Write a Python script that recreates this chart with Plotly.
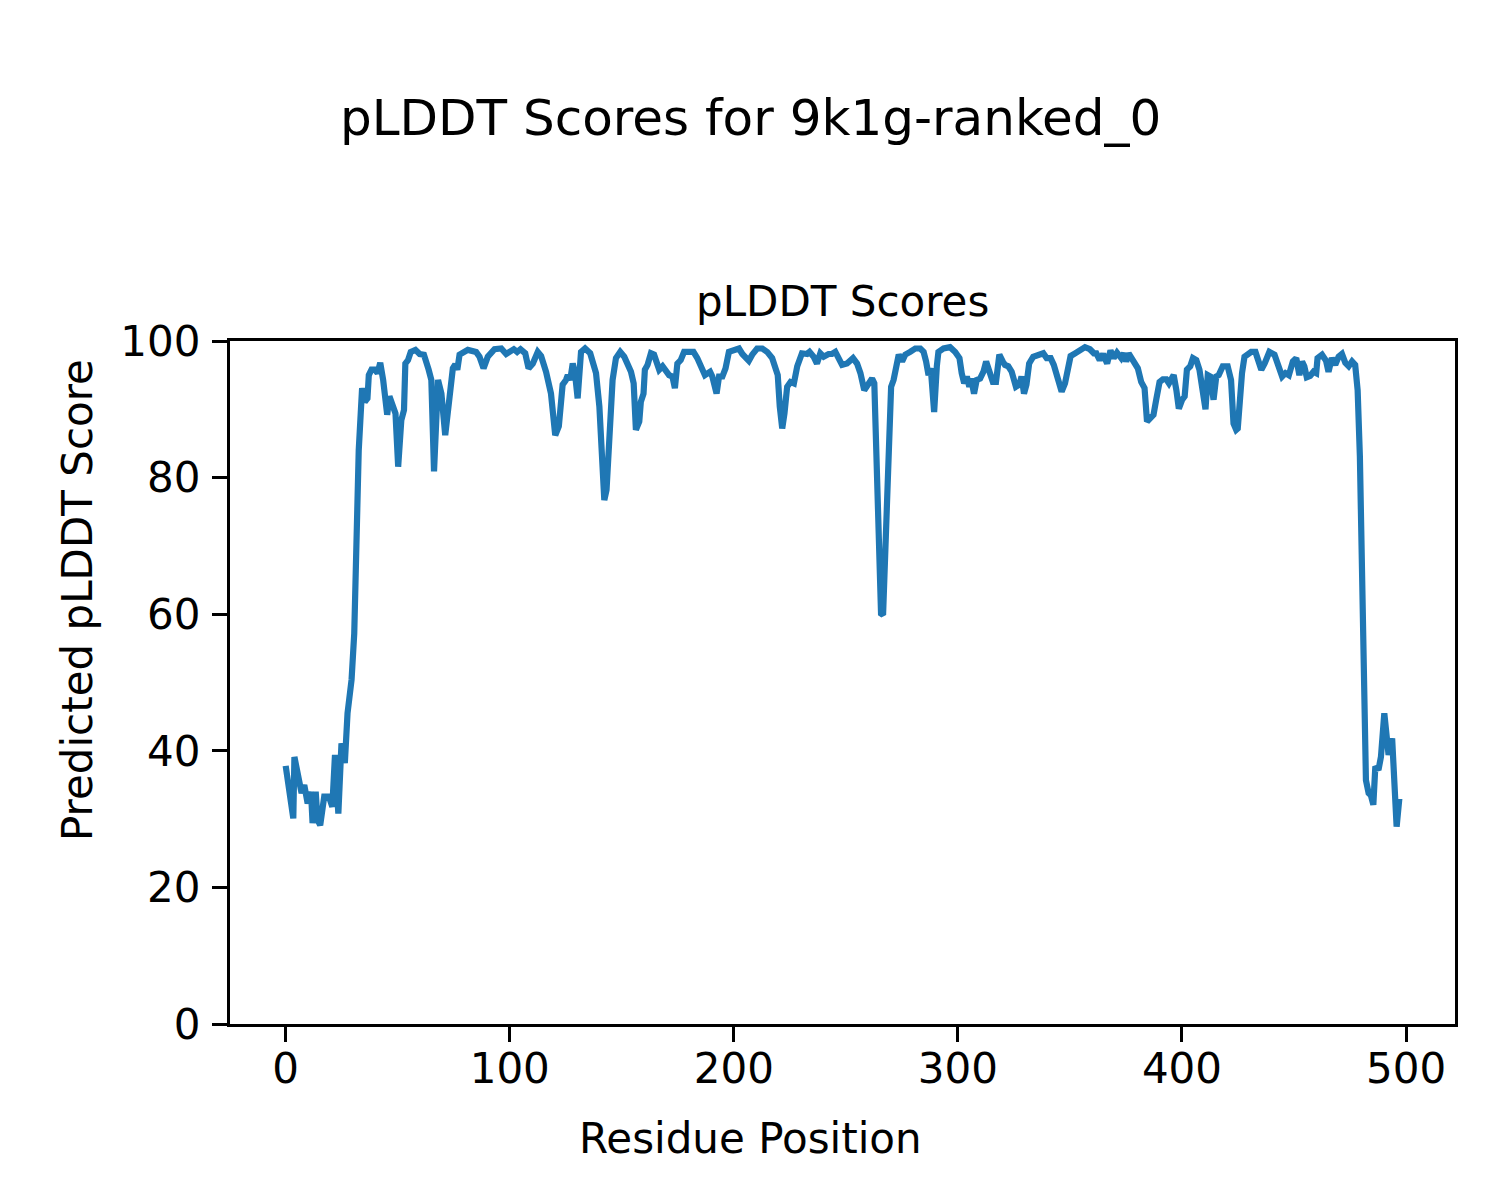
import plotly.graph_objects as go

# Residue positions and pLDDT values
residue = [
    0, 1.2, 3.4, 3.9, 5.6, 7.1, 8.3, 9.8, 11.3, 12.0, 13.4, 14.2, 15.4, 17.2, 19.3, 20.8,
    22.0, 23.5, 24.9, 26.4, 27.6, 29.4, 30.6, 31.6, 32.6, 34.1, 35.3, 36.5, 37.1, 38.3,
    39.8, 41.0, 42.2, 43.5, 45.3, 46.3, 48.0, 49.0, 50.2, 51.6, 52.8, 53.4, 54.6, 55.8,
    57.9, 59.8, 61.7, 62.8, 63.8, 65.0, 66.2, 68.0, 69.5, 71.2, 72.7, 73.9, 74.6, 75.7,
    76.6, 77.6, 79.1, 81.3, 85.0, 86.5, 88.3, 90.2, 93.2, 96.2, 98.4, 99.9, 101.8, 103.3,
    104.8, 106.9, 108.4, 110.3, 112.5, 114.0, 116.2, 118.4, 120.3, 121.9, 123.6, 125.1,
    125.9, 127.0, 128.1, 129.1, 130.3, 131.8, 133.6, 135.9, 138.5, 140.0, 141.1, 142.2,
    143.2, 144.4, 145.9, 147.4, 149.3, 151.1, 152.6, 154.1, 155.3, 156.3, 157.8, 158.5,
    159.7, 160.3, 161.5, 163.0, 164.4, 166.7, 168.2, 169.6, 171.1, 172.6, 173.7, 174.8,
    176.3, 177.8, 180.0, 182.0, 183.7, 185.5, 187.1, 189.4, 190.4, 192.3, 193.4, 194.9,
    196.3, 197.8, 200.0, 202.3, 203.8, 205.3, 206.7, 208.2, 210.4, 212.7, 214.9, 217.1,
    218.6, 219.6, 220.5, 221.6, 222.6, 223.8, 225.3, 226.8, 228.3, 230.4, 232.7, 233.8,
    235.6, 237.1, 238.6, 240.1, 242.3, 243.8, 245.3, 246.8, 248.3, 250.5, 253.2, 255.0,
    256.5, 258.2, 259.7, 261.7, 262.7, 263.6, 264.6, 265.7, 266.6, 267.6, 268.8, 270.2,
    271.3, 272.6, 273.6, 275.1, 276.5, 278.7, 281.0, 283.2, 284.7, 285.8, 286.9, 287.9,
    289.4, 290.6, 291.3, 293.6, 296.5, 298.8, 300.7, 301.7, 302.8, 304.0, 305.1, 305.9,
    307.2, 308.4, 309.9, 311.4, 312.6, 314.1, 315.6, 317.0, 318.5, 320.0, 321.0, 322.5,
    324.0, 325.9, 327.4, 328.4, 329.5, 330.6, 331.8, 333.6, 335.9, 338.1, 339.6, 341.4,
    342.8, 344.3, 346.3, 347.8, 349.3, 350.3, 352.3, 354.5, 356.7, 358.9, 360.7, 361.8,
    363.3, 364.8, 366.6, 368.1, 369.5, 371.0, 372.9, 374.1, 375.1, 376.2, 378.1, 380.3,
    381.8, 383.3, 384.4, 385.8, 387.3, 388.5, 390.0, 391.5, 393.0, 394.2, 395.2, 396.3,
    397.5, 398.6, 400.1, 401.2, 402.2, 403.7, 404.9, 406.4, 407.8, 409.0, 410.5, 411.5,
    412.6, 414.1, 415.3, 416.4, 418.2, 420.4, 421.9, 423.0, 424.2, 424.9, 426.0, 426.8,
    427.9, 429.4, 430.9, 432.8, 434.3, 435.4, 436.9, 439.0, 441.3, 442.8, 444.7, 446.2,
    447.7, 449.5, 451.0, 452.4, 453.6, 454.6, 455.7, 457.2, 458.7, 459.9, 460.5, 462.5,
    464.3, 465.4, 466.9, 468.4, 469.9, 471.4, 472.9, 474.4, 475.9, 477.3, 478.4, 479.4,
    480.3, 481.3, 482.1, 483.3, 484.3, 485.4, 486.3, 487.7, 488.8, 490.3, 491.5, 492.2,
    493.8, 494.8, 495.8, 497.0,
]
plddt = [
    37.8, 35.2, 30.1, 39.1, 36.0, 33.8, 35.0, 32.3, 34.0, 29.4, 34.0, 29.9, 29.1, 33.3, 33.3, 31.8,
    39.4, 30.8, 41.1, 38.2, 45.5, 50.4, 57.2, 70.9, 84.0, 93.1, 91.1, 91.6, 95.0, 95.8,
    95.8, 95.3, 96.8, 94.3, 89.2, 91.9, 90.4, 89.4, 81.6, 88.4, 89.9, 96.7, 97.2, 98.4,
    98.7, 98.1, 98.0, 96.3, 95.8, 94.3, 80.9, 94.3, 92.3, 86.2, 90.9, 92.8, 96.0, 96.6,
    95.8, 98.0, 98.4, 98.7, 98.4, 97.7, 96.0, 97.7, 98.8, 98.9, 98.1, 98.3, 98.8, 98.4,
    98.8, 98.2, 96.0, 96.7, 98.4, 97.8, 95.5, 92.3, 86.2, 87.5, 93.6, 94.3,
    95.0, 94.3, 96.7, 95.3, 91.6, 98.4, 98.9, 98.2, 95.3, 90.4, 81.6, 76.7,
    78.2, 85.5, 94.3, 97.5, 98.4, 97.7, 96.7, 95.5, 93.8, 87.0, 88.2, 91.1,
    92.3, 95.8, 96.5, 98.2, 98.0, 95.8, 96.3, 95.5, 95.0, 94.8, 93.1, 96.7,
    97.2, 98.4, 98.3, 98.4, 97.5, 96.0, 95.0, 95.5, 94.8, 92.3, 94.8, 94.8,
    96.0, 98.4, 98.7, 98.9, 98.1, 97.7, 97.1, 98.0, 98.9, 98.9, 98.4, 97.5,
    95.5, 95.0, 90.4, 87.2, 89.4, 93.3, 94.0, 93.8, 96.3, 98.2, 98.1, 98.4,
    97.7, 96.7, 98.2, 97.7, 98.1, 98.1, 98.4, 97.5, 96.5, 96.7, 97.5, 96.7,
    95.3, 92.8, 93.6, 94.5, 93.8, 85.5, 72.8, 60.1, 59.9, 70.9, 82.1, 93.3,
    94.3, 96.3, 98.0, 97.0, 98.0, 98.4, 98.9, 98.9, 98.4, 97.0, 95.0, 96.0,
    89.6, 96.3, 98.4, 98.9, 99.1, 98.4, 97.5, 95.3, 93.8, 94.8, 93.3, 94.5,
    92.3, 94.3, 94.5, 95.5, 97.0, 95.5, 94.0, 94.0, 98.0, 97.0, 96.5, 96.3,
    95.5, 93.3, 93.6, 94.8, 92.3, 93.6, 96.7, 97.7, 98.0, 98.2, 97.5, 97.5,
    96.5, 94.8, 92.6, 93.8, 96.0, 97.8, 98.2, 98.7, 99.1, 98.8, 98.2, 98.2,
    97.2, 98.1, 96.7, 98.6, 97.5, 98.3, 97.5, 98.2, 97.0, 98.2, 97.0, 96.0,
    94.0, 93.1, 88.2, 88.7, 89.2, 91.4, 94.0, 94.4, 94.4, 93.8, 94.5, 95.0,
    92.8, 90.1, 91.4, 91.9, 95.8, 96.3, 97.5, 97.2, 95.8, 92.8, 90.0, 95.0,
    94.8, 91.4, 94.8, 95.0, 96.3, 96.3, 94.3, 87.9, 87.0, 87.2, 93.8, 95.3,
    97.7, 98.0, 98.4, 98.4, 96.7, 95.8, 96.7, 98.4, 98.0, 96.7, 94.8, 95.3,
    95.0, 97.0, 97.5, 95.0, 97.0, 96.3, 94.7, 94.9, 95.5, 95.3, 97.5, 98.0,
    97.1, 95.5, 97.5, 96.5, 97.7, 98.1, 96.8, 96.3, 97.0, 96.5, 92.8, 83.1,
    66.0, 51.3, 35.7, 33.8, 33.5, 32.1, 37.7, 37.2, 39.1, 45.5, 41.6, 39.4,
    41.8, 35.7, 28.9, 33.0,
]

x_ticks = [0, 100, 200, 300, 400, 500]
y_ticks = [0, 20, 40, 60, 80, 100]

suptitle = "pLDDT Scores for 9k1g-ranked_0"
ax_title = "pLDDT Scores"
x_label = "Residue Position"
y_label = "Predicted pLDDT Score"

FONT = "DejaVu Sans"
OFF = 8  # page body margin offset
W, H = 1500 - OFF, 1200 - OFF
L, T = 230 - OFF, 341 - OFF
PW, PH = 1225, 683
R, B = W - L - PW, H - T - PH


def px(xp):
    # reference pixel x -> paper coordinate
    return (xp - 230) / PW


def py(yp):
    # reference pixel y -> paper coordinate
    return (1024 - yp) / PH


fig = go.Figure()
fig.add_trace(go.Scatter(
    x=residue, y=plddt, mode="lines",
    line=dict(color="#1f77b4", width=6.2),
    showlegend=False,
))

axis_common = dict(
    showgrid=False, zeroline=False, showline=True, linecolor="black", linewidth=3.3,
    mirror=True, ticks="outside", ticklen=15, tickwidth=3.3, tickcolor="black",
    tickfont=dict(family=FONT, size=42, color="black"),
)
fig.update_xaxes(range=[-24.85, 521.85], tickvals=x_ticks, ticklabelstandoff=-10, **axis_common)
fig.update_yaxes(range=[0, 100], tickvals=y_ticks, ticklabelstandoff=3, **axis_common)

annots = [
    dict(text=suptitle, x=px(750), y=py(118), size=50),
    dict(text=ax_title, x=px(842.5), y=py(302), size=42),
    dict(text=x_label, x=px(750), y=py(1138), size=42),
]
for a in annots:
    fig.add_annotation(text=a["text"], x=a["x"], y=a["y"], xref="paper", yref="paper",
                       xanchor="center", yanchor="middle", showarrow=False,
                       font=dict(family=FONT, size=a["size"], color="black"))
fig.add_annotation(text=y_label, x=px(77), y=py(600), xref="paper", yref="paper",
                   xanchor="center", yanchor="middle", showarrow=False, textangle=-90,
                   font=dict(family=FONT, size=42, color="black"))

fig.update_layout(
    width=W, height=H,
    margin=dict(l=L, r=R, t=T, b=B, pad=0),
    paper_bgcolor="white", plot_bgcolor="white",
    font=dict(family=FONT, color="black"),
)

fig.write_html("out.html")
